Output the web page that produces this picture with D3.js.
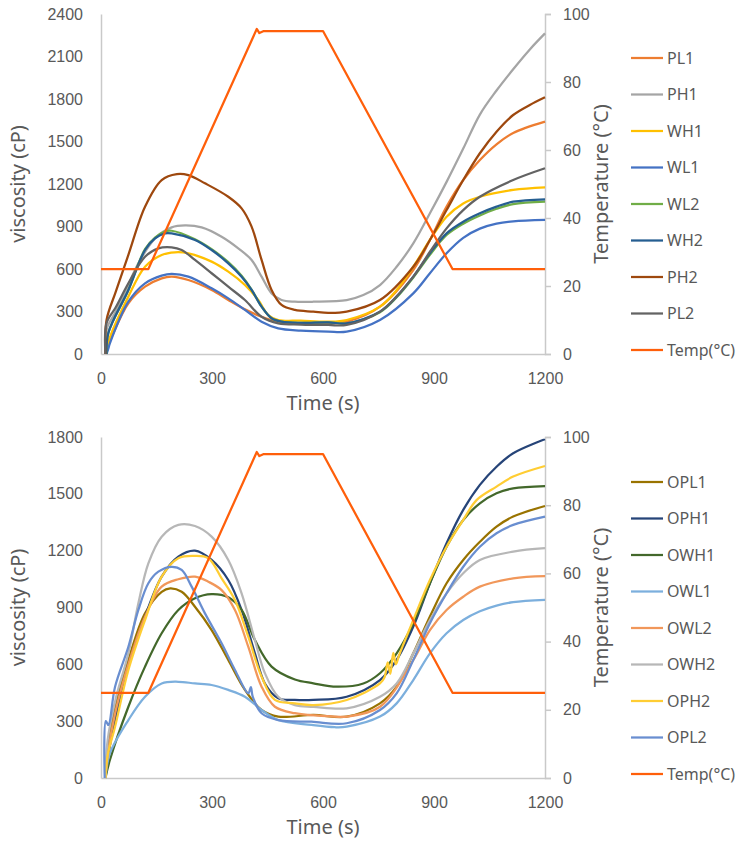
<!DOCTYPE html>
<html>
<head>
<meta charset="utf-8">
<title>viscosity</title>
<script src="https://cdn.jsdelivr.net/npm/d3@7"></script>
<style>
    body { margin: 0; background: #fff; }
    svg { font-family: "Noto Sans", "Open Sans", sans-serif; }
    .tick text { fill: #595959; font-size: 16px; }
    .axis-title { fill: #595959; font-size: 20px; }
    .legend text { fill: #595959; font-size: 16px; }
</style>
</head>
<body>
<script>

// time axis, seconds
var xTicks = [0, 300, 600, 900, 1200];
var topTicks = [0, 300, 600, 900, 1200, 1500, 1800, 2100, 2400];
var bottomTicks = [0, 300, 600, 900, 1200, 1500, 1800];
var tempTicks = [0, 20, 40, 60, 80, 100];

// temperature profile (°C), same for both runs
var tempProfile = [[0,25],[128,25],[421,95.6],[428,94.4],[440,95],[600,95],[950,25],[1200,25]];

// top chart, viscosity (cP)
var PL1 = [[12,0],[18,60],[29,122],[74,358],[119,475],[164,534],[191,546],[236,522],[299,452],[344,381],[389,315],[434,263],[479,228],[540,218],[614,216],[664,228],[754,334],[844,593],[889,805],[934,1040],[979,1228],[1024,1369],[1069,1480],[1114,1560],[1200,1640]];
var PH1 = [[12,0],[16,180],[40,300],[74,490],[101,640],[146,816],[191,894],[227,908],[272,894],[326,828],[371,746],[407,664],[434,546],[461,428],[488,381],[524,369],[574,369],[664,381],[709,416],[754,487],[799,616],[844,781],[889,993],[934,1215],[979,1450],[1024,1690],[1069,1860],[1114,2010],[1159,2150],[1200,2263]];
var WH1 = [[15,0],[22,100],[74,405],[119,616],[164,699],[200,718],[236,711],[299,652],[344,581],[389,487],[425,381],[452,275],[479,240],[540,235],[614,228],[664,240],[754,334],[799,452],[844,616],[889,805],[934,969],[979,1063],[1024,1110],[1114,1158],[1200,1176]];
var WL1 = [[15,0],[20,40],[24,75],[74,369],[119,499],[164,553],[191,565],[236,546],[299,464],[344,393],[389,311],[434,228],[479,181],[540,165],[614,158],[664,158],[754,240],[844,428],[889,570],[934,711],[979,820],[1024,885],[1069,920],[1114,936],[1200,946]];
var WL2 = [[15,0],[20,150],[74,452],[119,740],[146,822],[173,865],[191,870],[254,810],[299,740],[344,648],[380,552],[407,455],[434,334],[461,252],[488,228],[540,220],[614,224],[664,216],[754,295],[799,400],[844,540],[889,700],[934,840],[979,920],[1024,978],[1069,1025],[1114,1058],[1200,1075]];
var WH2 = [[15,0],[20,150],[74,452],[119,734],[146,816],[173,852],[191,852],[254,805],[299,734],[344,640],[380,546],[407,452],[434,334],[461,252],[488,228],[540,220],[614,224],[664,216],[754,299],[799,405],[844,546],[889,711],[934,852],[979,934],[1024,993],[1069,1040],[1114,1075],[1200,1092]];
var PH2 = [[12,0],[15,240],[40,440],[74,700],[119,1040],[164,1228],[205,1270],[236,1263],[281,1205],[344,1110],[380,1028],[407,899],[434,664],[461,452],[488,346],[524,311],[574,299],[614,290],[664,299],[754,381],[844,616],[889,805],[934,1016],[979,1228],[1024,1417],[1069,1569],[1114,1687],[1159,1758],[1200,1812]];
var PL2 = [[12,0],[15,219],[40,330],[74,499],[119,687],[155,746],[191,753],[218,734],[254,664],[299,570],[344,475],[389,381],[434,263],[479,216],[540,208],[614,205],[664,205],[754,299],[844,546],[889,722],[934,887],[979,1016],[1024,1110],[1114,1228],[1200,1311]];

// bottom chart, viscosity (cP)
var OPL1 = [[12,0],[18,150],[38,376],[74,623],[119,869],[164,983],[187,1001],[218,983],[254,904],[299,781],[344,623],[389,465],[434,359],[479,324],[574,333],[664,324],[754,394],[799,482],[844,658],[889,852],[934,1028],[979,1151],[1024,1247],[1069,1327],[1114,1380],[1200,1436]];
var OPH1 = [[12,0],[18,100],[38,306],[74,588],[119,852],[164,1063],[209,1168],[254,1200],[299,1151],[344,1045],[380,887],[416,658],[443,499],[479,421],[524,412],[574,412],[664,429],[754,517],[799,623],[844,799],[889,1028],[934,1239],[979,1415],[1024,1547],[1069,1643],[1114,1714],[1200,1788]];
var OWH1 = [[12,0],[24,95],[74,376],[119,588],[164,764],[209,887],[254,949],[299,971],[344,954],[380,887],[416,728],[461,588],[524,520],[574,500],[637,482],[709,499],[754,553],[799,658],[844,817],[889,1028],[934,1221],[979,1362],[1024,1450],[1069,1503],[1114,1529],[1200,1541]];
var OWL1 = [[12,0],[24,130],[74,306],[119,429],[164,499],[209,508],[254,499],[299,491],[344,465],[389,429],[434,359],[479,306],[569,280],[632,268],[664,271],[754,324],[799,394],[844,517],[889,658],[934,764],[979,834],[1024,880],[1069,910],[1114,928],[1200,940]];
var OWL2 = [[12,0],[18,120],[38,340],[74,600],[119,852],[164,1010],[209,1049],[254,1063],[290,1036],[326,992],[362,887],[398,693],[434,482],[470,376],[524,342],[632,324],[664,324],[754,376],[844,623],[889,781],[934,887],[979,957],[1024,1010],[1114,1054],[1200,1066]];
var OWH2 = [[12,0],[18,200],[40,420],[74,658],[101,922],[128,1133],[164,1274],[209,1336],[254,1330],[299,1274],[344,1151],[380,975],[416,728],[443,553],[479,429],[524,385],[574,376],[664,368],[754,429],[799,499],[844,658],[889,834],[934,975],[979,1081],[1024,1151],[1114,1195],[1200,1213]];
var OPH2 = [[12,0],[18,120],[38,271],[74,570],[119,834],[164,1063],[209,1160],[254,1172],[290,1160],[326,1054],[362,940],[398,746],[434,535],[470,412],[524,394],[574,385],[664,412],[754,499],[766,530],[775,610],[782,550],[790,660],[797,600],[806,650],[844,834],[889,1045],[934,1221],[979,1362],[1015,1467],[1069,1538],[1114,1591],[1200,1647]];
var OPL2 = [[10,0],[13,300],[20,280],[38,482],[74,693],[101,887],[128,1028],[155,1089],[191,1115],[218,1098],[245,1010],[281,869],[326,711],[362,570],[398,447],[405,480],[410,430],[434,342],[479,306],[569,297],[664,289],[754,359],[799,447],[844,623],[889,817],[934,975],[979,1115],[1024,1221],[1069,1292],[1114,1336],[1200,1380]];

var tempColor = "#ff5f0a";

var topSeries = [
    {name: "PL1", color: "#ed7d31", values: PL1},
    {name: "PH1", color: "#a5a5a5", values: PH1},
    {name: "WH1", color: "#ffc000", values: WH1},
    {name: "WL1", color: "#4472c4", values: WL1},
    {name: "WL2", color: "#70ad47", values: WL2},
    {name: "WH2", color: "#255e91", values: WH2},
    {name: "PH2", color: "#9e480e", values: PH2},
    {name: "PL2", color: "#636363", values: PL2}
];
var bottomSeries = [
    {name: "OPL1", color: "#997300", values: OPL1},
    {name: "OPH1", color: "#264478", values: OPH1},
    {name: "OWH1", color: "#43682b", values: OWH1},
    {name: "OWL1", color: "#7cafdd", values: OWL1},
    {name: "OWL2", color: "#f1975a", values: OWL2},
    {name: "OWH2", color: "#b7b7b7", values: OWH2},
    {name: "OPH2", color: "#ffcd33", values: OPH2},
    {name: "OPL2", color: "#698ed0", values: OPL2}
];

var svg = d3.select("body").append("svg")
    .attr("width", 736)
    .attr("height", 844);

function drawPanel(series, yMax, yTicks, top, bottom, legendTop) {
    var left = 101, right = 545;
    var x = d3.scaleLinear().domain([0, 1200]).range([left, right]);
    var y = d3.scaleLinear().domain([0, yMax]).range([bottom, top]);
    var yT = d3.scaleLinear().domain([0, 100]).range([bottom, top]);
    var g = svg.append("g");
    var fmt = d3.format("d");

    // axes
    var xAxis = g.append("g").attr("transform", "translate(0," + bottom + ")")
        .call(d3.axisBottom(x).tickValues(xTicks).tickFormat(fmt).tickSize(0).tickPadding(19));
    var yAxis = g.append("g").attr("transform", "translate(" + left + ",0)")
        .call(d3.axisLeft(y).tickValues(yTicks).tickFormat(fmt).tickSize(0).tickPadding(18));
    var rAxis = g.append("g").attr("transform", "translate(" + right + ",0)")
        .call(d3.axisRight(yT).tickValues(tempTicks).tickFormat(fmt).tickSize(6).tickPadding(12));
    [xAxis, yAxis, rAxis].forEach(function (a) {
        a.select(".domain").attr("stroke", "#c9c9c9").attr("stroke-width", 1.5);
        a.selectAll(".tick line").attr("stroke", "#c9c9c9").attr("stroke-width", 1.5);
    });

    g.append("text").attr("class", "axis-title")
        .attr("text-anchor", "middle")
        .attr("transform", "translate(18," + (top + bottom) / 2 + ") rotate(-90)")
        .attr("dy", "0.35em")
        .text("viscosity (cP)");
    g.append("text").attr("class", "axis-title")
        .attr("text-anchor", "middle")
        .attr("transform", "translate(601," + (top + bottom) / 2 + ") rotate(-90)")
        .attr("dy", "0.35em")
        .text("Temperature (°C)");
    g.append("text").attr("class", "axis-title")
        .attr("text-anchor", "middle")
        .attr("x", (left + right) / 2)
        .attr("y", bottom + 56)
        .text("Time (s)");

    // lines
    var line = d3.line()
        .x(function (d) { return x(d[0]); })
        .y(function (d) { return y(d[1]); })
        .curve(d3.curveCatmullRom.alpha(0.5));
    var tempLine = d3.line()
        .x(function (d) { return x(d[0]); })
        .y(function (d) { return yT(d[1]); });

    g.selectAll(".series").data(series).enter().append("path")
        .attr("class", "series")
        .attr("fill", "none")
        .attr("stroke", function (d) { return d.color; })
        .attr("stroke-width", 2.25)
        .attr("stroke-linejoin", "round")
        .attr("d", function (d) { return line(d.values); });

    g.append("path")
        .attr("fill", "none")
        .attr("stroke", tempColor)
        .attr("stroke-width", 2.25)
        .attr("stroke-linejoin", "round")
        .attr("d", tempLine(tempProfile));

    // legend
    var items = series.map(function (d) { return {name: d.name, color: d.color}; });
    items.push({name: "Temp(°C)", color: tempColor});
    var leg = g.append("g").attr("class", "legend");
    var row = leg.selectAll("g").data(items).enter().append("g")
        .attr("transform", function (d, i) { return "translate(631," + (legendTop + i * 36.5) + ")"; });
    row.append("line")
        .attr("x1", 0).attr("x2", 32)
        .attr("stroke", function (d) { return d.color; })
        .attr("stroke-width", 2.25);
    row.append("text")
        .attr("x", 36).attr("dy", "0.35em")
        .text(function (d) { return d.name; });
}

drawPanel(topSeries, 2400, topTicks, 14, 354, 58);
drawPanel(bottomSeries, 1800, bottomTicks, 437, 778, 482);

</script>
</body>
</html>
